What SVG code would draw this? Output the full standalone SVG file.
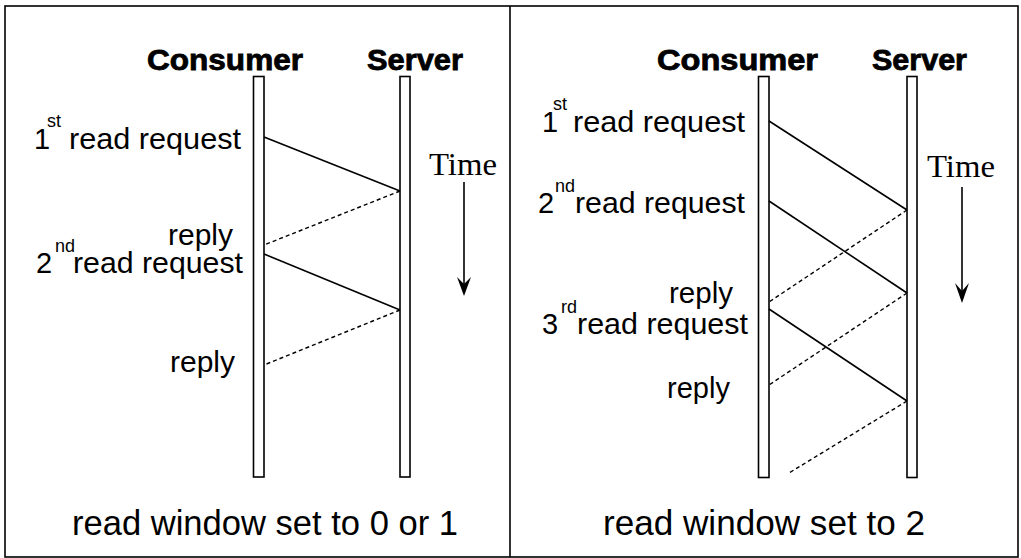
<svg xmlns="http://www.w3.org/2000/svg" width="1021" height="558" viewBox="0 0 1021 558">
  <style>
    .frame { fill: none; stroke: #000; stroke-width: 1.6; }
    .bar { fill: #fff; stroke: #000; stroke-width: 1.6; }
    .head { font-family: "Liberation Sans", Arial, sans-serif; font-weight: bold; font-size: 29px; fill: #000; stroke: #000; stroke-width: 0.8; }
    .lbl { font-family: "Liberation Sans", Arial, sans-serif; font-size: 29px; fill: #000; }
    .sup { font-family: "Liberation Sans", Arial, sans-serif; font-size: 18px; fill: #000; }
    .cap { font-family: "Liberation Sans", Arial, sans-serif; font-size: 35px; fill: #000; }
    .time { font-family: "Liberation Serif", "Times New Roman", serif; font-size: 31px; fill: #000; }
    .req { stroke: #000; stroke-width: 1.6; fill: none; }
    .rep { stroke: #000; stroke-width: 1.4; fill: none; stroke-dasharray: 4 3; }
    .axis { stroke: #000; stroke-width: 1.6; }
  </style>

  <!-- outer frame and panel divider -->
  <rect class="frame" x="5" y="6" width="1013" height="551"/>
  <line class="frame" x1="510" y1="6" x2="510" y2="557"/>

  <!-- left panel: window 0 or 1 -->
  <g id="left-consumer">
    <text class="head" x="147" y="70" textLength="156" lengthAdjust="spacingAndGlyphs">Consumer</text>
    <rect class="bar" x="253.5" y="76.5" width="10.5" height="400.5"/>
  </g>
  <g id="left-server">
    <text class="head" x="367" y="70" textLength="96" lengthAdjust="spacingAndGlyphs">Server</text>
    <rect class="bar" x="400" y="76.5" width="10" height="400.5"/>
  </g>
  <g id="left-labels">
    <text class="lbl" x="34" y="149">1</text>
    <text class="sup" x="47" y="127">st</text>
    <text class="lbl" x="69" y="149" textLength="172" lengthAdjust="spacingAndGlyphs">read request</text>
    <text class="lbl" x="168" y="245" textLength="65" lengthAdjust="spacingAndGlyphs">reply</text>
    <text class="lbl" x="36" y="273">2</text>
    <text class="sup" x="55" y="252">nd</text>
    <text class="lbl" x="73" y="273" textLength="170" lengthAdjust="spacingAndGlyphs">read request</text>
    <text class="lbl" x="170" y="372" textLength="65" lengthAdjust="spacingAndGlyphs">reply</text>
  </g>
  <g id="left-time">
    <text class="time" x="429" y="175" textLength="68" lengthAdjust="spacingAndGlyphs">Time</text>
    <line class="axis" x1="464" y1="182" x2="464" y2="288"/>
    <path d="M464 296 L457 277 L464 284 L471 277 Z" fill="#000"/>
  </g>
  <g id="left-caption">
    <text class="cap" x="72" y="535" textLength="386" lengthAdjust="spacingAndGlyphs">read window set to 0 or 1</text>
  </g>

  <!-- right panel: window 2 -->
  <g id="right-consumer">
    <text class="head" x="657" y="70" textLength="161" lengthAdjust="spacingAndGlyphs">Consumer</text>
    <rect class="bar" x="758.5" y="76.5" width="10.5" height="401"/>
  </g>
  <g id="right-server">
    <text class="head" x="872" y="70" textLength="95" lengthAdjust="spacingAndGlyphs">Server</text>
    <rect class="bar" x="907" y="76.5" width="10" height="401"/>
  </g>
  <g id="right-labels">
    <text class="lbl" x="542" y="132">1</text>
    <text class="sup" x="553" y="110">st</text>
    <text class="lbl" x="573" y="132" textLength="172" lengthAdjust="spacingAndGlyphs">read request</text>
    <text class="lbl" x="538" y="213">2</text>
    <text class="sup" x="555" y="192">nd</text>
    <text class="lbl" x="575" y="213" textLength="170" lengthAdjust="spacingAndGlyphs">read request</text>
    <text class="lbl" x="669" y="303" textLength="64" lengthAdjust="spacingAndGlyphs">reply</text>
    <text class="lbl" x="542" y="334">3</text>
    <text class="sup" x="561" y="313">rd</text>
    <text class="lbl" x="577" y="334" textLength="171" lengthAdjust="spacingAndGlyphs">read request</text>
    <text class="lbl" x="667" y="398" textLength="63" lengthAdjust="spacingAndGlyphs">reply</text>
  </g>
  <g id="right-time">
    <text class="time" x="927" y="177" textLength="68" lengthAdjust="spacingAndGlyphs">Time</text>
    <line class="axis" x1="962" y1="187" x2="962" y2="295"/>
    <path d="M962 303 L955 283 L962 291 L969 283 Z" fill="#000"/>
  </g>
  <g id="right-caption">
    <text class="cap" x="603" y="535" textLength="322" lengthAdjust="spacingAndGlyphs">read window set to 2</text>
  </g>

  <!-- message connectors -->
  <g id="connectors">
    <line class="req" x1="264" y1="137" x2="400" y2="191"/>
    <line class="rep" x1="400" y1="191" x2="264" y2="245"/>
    <line class="req" x1="264" y1="254" x2="400" y2="310"/>
    <line class="rep" x1="400" y1="310" x2="264" y2="365"/>

    <line class="req" x1="769" y1="121" x2="907" y2="210"/>
    <line class="req" x1="769" y1="201" x2="907" y2="293"/>
    <line class="rep" x1="907" y1="210" x2="769" y2="302"/>
    <line class="req" x1="769" y1="309" x2="907" y2="401"/>
    <line class="rep" x1="907" y1="293" x2="769" y2="385"/>
    <line class="rep" x1="907" y1="401" x2="789" y2="473"/>
  </g>
</svg>
